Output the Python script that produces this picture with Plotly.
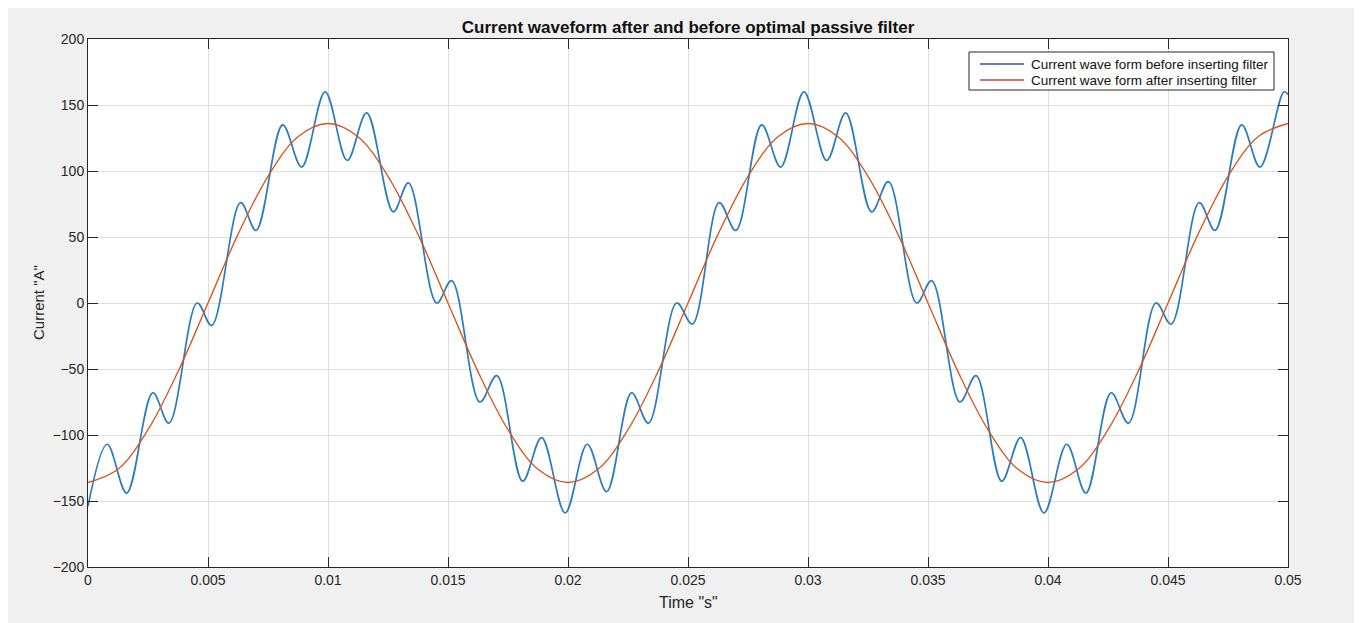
import plotly.graph_objects as go

# ---- data ----
# Current before filter: turning points (peaks / troughs) of the distorted wave
t_before = [0.0, 0.00080, 0.00161, 0.00270, 0.00337, 0.00455, 0.00515, 0.00636, 0.00700,
            0.00811, 0.00890, 0.00988, 0.01080, 0.01161, 0.01272, 0.01335, 0.01453, 0.01515,
            0.01633, 0.01703, 0.01811, 0.01890, 0.01988, 0.02080, 0.02161, 0.02265, 0.02335,
            0.02453, 0.02518, 0.02630, 0.02699, 0.02807, 0.02886, 0.02983, 0.03078, 0.03157,
            0.03265, 0.03335, 0.03453, 0.03515, 0.03633, 0.03700, 0.03807, 0.03886, 0.03983,
            0.04078, 0.04158, 0.04263, 0.04335, 0.04450, 0.04513, 0.04630, 0.04696, 0.04807,
            0.04883, 0.04983, 0.05]
i_before = [-154, -107, -144, -68, -91, 0, -17, 76, 55,
            135, 103, 160, 108, 144, 69, 91, 0, 17,
            -75, -55, -135, -102, -159, -107, -143, -68, -91,
            0, -16, 76, 55, 135, 103, 160, 108, 144,
            69, 92, 0, 17, -75, -55, -135, -102, -159,
            -107, -144, -68, -91, 0, -16, 76, 55, 135,
            103, 160, 158]

# Current after filter: samples of the smooth wave every 1.25 ms
t_after = [0.0, 0.00125, 0.0025, 0.00375, 0.005, 0.00625, 0.0075, 0.00875, 0.01,
           0.01125, 0.0125, 0.01375, 0.015, 0.01625, 0.0175, 0.01875, 0.02,
           0.02125, 0.0225, 0.02375, 0.025, 0.02625, 0.0275, 0.02875, 0.03,
           0.03125, 0.0325, 0.03375, 0.035, 0.03625, 0.0375, 0.03875, 0.04,
           0.04125, 0.0425, 0.04375, 0.045, 0.04625, 0.0475, 0.04875, 0.05]
i_after = [-136, -126, -96, -52, 0, 52, 96, 126, 136,
           126, 96, 52, 0, -52, -96, -126, -136,
           -126, -96, -52, 0, 52, 96, 126, 136,
           126, 96, 52, 0, -52, -96, -126, -136,
           -126, -96, -52, 0, 52, 96, 126, 136]

x_ticks = [0, 0.005, 0.01, 0.015, 0.02, 0.025, 0.03, 0.035, 0.04, 0.045, 0.05]
x_tick_text = ["0", "0.005", "0.01", "0.015", "0.02", "0.025", "0.03", "0.035", "0.04", "0.045", "0.05"]
y_ticks = [-200, -150, -100, -50, 0, 50, 100, 150, 200]

name_before = "Current wave form before inserting filter"
name_after = "Current wave form after inserting filter"
col_before, col_after = "#2a7bbf", "#d95319"
leg_before, leg_after = "#3b4fa3", "#c8473c"

# ---- figure geometry (page pixels; the page body adds an 8px offset) ----
OFF = 8
W, H = 1362 - 2 * OFF + 2, 623 - OFF
L, R, T, B = 88, 1288, 39, 567          # plot area in page pixels
pw, ph = R - L, B - T

def px_x(p):
    return (p - L) / pw

def px_y(p):
    return (B - p) / ph

font_family = "Liberation Sans, Arial, Helvetica, sans-serif"
axis_col = "#262626"

fig = go.Figure()
fig.add_trace(go.Scatter(x=t_before, y=i_before, mode="lines", name=name_before, showlegend=False,
                         line=dict(color=col_before, width=1.7, shape="spline", smoothing=1.0)))
fig.add_trace(go.Scatter(x=t_after, y=i_after, mode="lines", name=name_after, showlegend=False,
                         line=dict(color=col_after, width=1.3, shape="spline", smoothing=1.0)))

axis_common = dict(
    showline=True, linecolor=axis_col, linewidth=1, mirror="ticks",
    ticks="inside", ticklen=10, tickwidth=1, tickcolor=axis_col,
    showgrid=True, gridcolor="#dedede", gridwidth=1, zeroline=False,
    tickfont=dict(family=font_family, size=14, color=axis_col),
)

# legend box drawn from shapes and text (matches reference compact legend)
leg_x0, leg_x1, leg_y0, leg_y1 = 969, 1274, 52, 90
row_y = [64, 80]
shapes = [
    dict(type="rect", xref="paper", yref="paper",
         x0=px_x(leg_x0), x1=px_x(leg_x1), y0=px_y(leg_y1), y1=px_y(leg_y0),
         fillcolor="white", line=dict(color=axis_col, width=1), layer="above"),
]
annotations = [
    dict(text='Time "s"', xref="paper", yref="paper", x=0.5, y=px_y(602),
         xanchor="center", yanchor="middle", showarrow=False,
         font=dict(family=font_family, size=16, color=axis_col)),
    dict(text='Current "A"', xref="paper", yref="paper", x=px_x(38), y=0.5,
         xanchor="center", yanchor="middle", showarrow=False, textangle=-90,
         font=dict(family=font_family, size=15, color=axis_col)),
]
for ry, lc, nm in zip(row_y, [leg_before, leg_after], [name_before, name_after]):
    shapes.append(dict(type="line", xref="paper", yref="paper",
                       x0=px_x(980), x1=px_x(1024), y0=px_y(ry), y1=px_y(ry),
                       line=dict(color=lc, width=1.3), layer="above"))
    annotations.append(dict(text=nm, xref="paper", yref="paper", x=px_x(1029), y=px_y(ry),
                            xanchor="left", yanchor="middle", showarrow=False,
                            font=dict(family=font_family, size=13.5, color="#111111")))

fig.update_layout(
    width=W, height=H,
    margin=dict(l=L - OFF, r=(W + OFF) - R, t=T - OFF, b=(H + OFF) - B, pad=0),
    paper_bgcolor="#f0f0f0", plot_bgcolor="white",
    font=dict(family=font_family, color=axis_col),
    title=dict(text="<b>Current waveform after and before optimal passive filter</b>",
               x=0.5, xref="paper", xanchor="center",
               y=1 - (27 - OFF) / H, yref="container", yanchor="middle",
               font=dict(family=font_family, size=17, color="#111111")),
    xaxis=dict(range=[0, 0.05], tickvals=x_ticks, ticktext=x_tick_text, **axis_common),
    yaxis=dict(range=[-200, 200], tickvals=y_ticks, **axis_common),
    showlegend=False,
    annotations=annotations,
    shapes=shapes,
)

fig.write_html("out.html")
